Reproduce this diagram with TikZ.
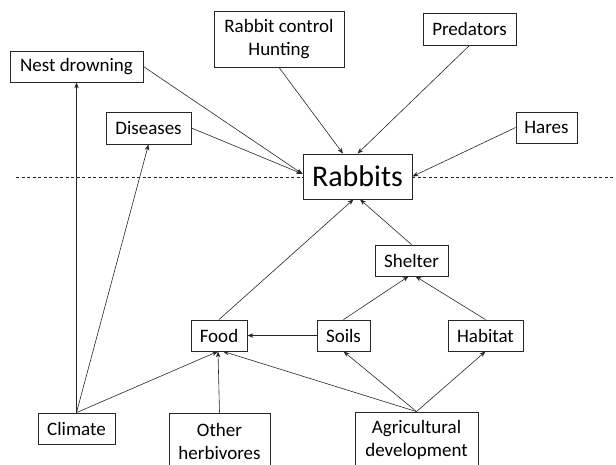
\documentclass[tikz,border=0pt]{standalone}
\usepackage{fontspec}
\setmainfont{Carlito}
\usetikzlibrary{arrows.meta}
\begin{document}
\begin{tikzpicture}[x=1pt,y=-1pt,
  box/.style={draw=black!85, line width=0.8pt, inner sep=0pt, align=center,
    font=\fontsize{19}{23}\selectfont, text=black},
  arr/.style={draw=black!85, line width=0.6pt, -{Stealth[length=6pt,width=4.5pt]}},
  dash line/.style={draw=black!85, line width=0.6pt, dash pattern=on 3pt off 2.5pt}]
\clip (0,0) rectangle (616,465);
\node[box, minimum width=133pt, minimum height=31pt] (nest) at (76.5,66.5) {Nest drowning};
\node[box, minimum width=85pt, minimum height=32pt] (dis) at (148.5,128) {Diseases};
\node[box, minimum width=130pt, minimum height=56pt] (ctrl) at (279,39) {Rabbit control\\Hunting};
\node[box, minimum width=93pt, minimum height=32pt] (pred) at (469.5,29) {Predators};
\node[box, minimum width=61pt, minimum height=31pt] (hares) at (546.5,127.5) {Hares};
\node[box, minimum width=109pt, minimum height=45pt, font=\fontsize{30}{34}\selectfont] (rab) at (357.5,176.5) {Rabbits};
\node[box, minimum width=73pt, minimum height=31pt] (shelter) at (411.5,260.5) {Shelter};
\node[box, minimum width=53pt, minimum height=31pt] (soils) at (343.5,335.5) {Soils};
\node[box, minimum width=75pt, minimum height=31pt] (habitat) at (485.5,335.5) {Habitat};
\node[box, minimum width=56pt, minimum height=31pt] (food) at (219,335.5) {Food};
\node[box, minimum width=77pt, minimum height=31pt] (climate) at (76.5,428.5) {Climate};
\node[box, minimum width=101pt, minimum height=56pt] (other) at (219.5,441) {Other\\herbivores};
\node[box, minimum width=123pt, minimum height=56pt] (agri) at (416.5,440) {Agricultural\\development};
\coordinate (dl) at (16,177);
\coordinate (dr) at (616,177);
\draw[dash line] (dl) -- (rab.west |- dl);
\draw[dash line] (rab.east |- dr) -- (dr);
\draw[arr] (nest.east) -- ([yshift=2.5pt]rab.west);
\draw[arr] (dis.east) -- ([yshift=2.5pt]rab.west);
\draw[arr] (ctrl.south) -- ([xshift=-14.5pt]rab.north);
\draw[arr] (pred.south) -- (rab.north);
\draw[arr] (hares.west) -- (rab.east);
\draw[arr] (climate.north) -- (nest.south);
\draw[arr] (climate.north) -- (dis.south);
\draw[arr] (climate.north) -- ([xshift=-1pt]food.south);
\draw[arr] (other.north) -- ([xshift=-1pt]food.south);
\draw[arr] (agri.north) -- ([xshift=4pt]food.south);
\draw[arr] (agri.north) -- (soils.south);
\draw[arr] (agri.north) -- (habitat.south);
\draw[arr] (soils.west) -- (food.east);
\draw[arr] (soils.north) -- ([xshift=-3pt]shelter.south);
\draw[arr] (habitat.north) -- ([xshift=4pt]shelter.south);
\draw[arr] (food.north) -- ([xshift=-4pt]rab.south);
\draw[arr] (shelter.north) -- ([xshift=2.5pt]rab.south);
\end{tikzpicture}
\end{document}
